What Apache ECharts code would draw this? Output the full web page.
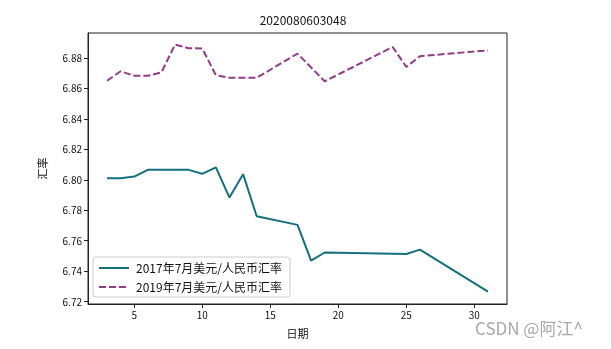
<!DOCTYPE html>
<html><head><meta charset="utf-8">
<script src="https://cdn.jsdelivr.net/npm/echarts@6/dist/echarts.min.js"></script>
<style>html,body{margin:0;padding:0;background:#fff}#c{width:611px;height:349px}</style>
</head><body><div id="c"></div>
<script>
const days2017 = [3,4,5,6,9,10,11,12,13,14,17,18,19,25,26,31];
const rate2017 = [6.8010,6.8010,6.8021,6.8065,6.8065,6.8039,6.8081,6.7883,6.8037,6.7761,6.7704,6.7469,6.7523,6.7513,6.7542,6.7266];
const days2019 = [3,4,5,6,7,8,9,10,11,12,14,17,19,24,25,26,31];
const rate2019 = [6.8650,6.8712,6.8682,6.8682,6.8705,6.8887,6.8863,6.8862,6.8686,6.8669,6.8669,6.8828,6.8646,6.8871,6.8740,6.8811,6.8849];
const xTicks = [5,10,15,20,25,30];
const yTicks = [6.72,6.74,6.76,6.78,6.80,6.82,6.84,6.86,6.88];
const seriesNames = ['2017年7月美元/人民币汇率','2019年7月美元/人民币汇率'];
const titleText = '2020080603048';
const xName = '日期', yName = '汇率';
const FONT = '"Noto Sans CJK SC", sans-serif';

const chart = echarts.init(document.getElementById('c'), null, {renderer:'canvas'});
chart.setOption({
  animation:false,
  backgroundColor:'#fff',
  title:{text:titleText,left:298,top:9,textAlign:'center',
    textStyle:{fontFamily:FONT,fontSize:12,fontWeight:'normal',color:'#111'}},
  grid:{left:88,right:104,top:33,bottom:45,show:true,borderColor:'#222',borderWidth:1,backgroundColor:'transparent'},
  xAxis:{type:'value',min:1.6,max:32.4,name:xName,nameLocation:'middle',nameGap:24,
    nameTextStyle:{fontFamily:FONT,fontSize:11,color:'#111'},
    axisLine:{show:true,onZero:false,lineStyle:{color:'#222',width:1}},
    axisTick:{show:true,length:4,customValues:xTicks,lineStyle:{color:'#222'}},
    splitLine:{show:false},
    axisLabel:{customValues:xTicks,fontFamily:FONT,fontSize:10,color:'#111',margin:6}},
  yAxis:{type:'value',min:6.7185,max:6.8963,name:yName,nameLocation:'middle',nameGap:40,nameRotate:90,
    nameTextStyle:{fontFamily:FONT,fontSize:11,color:'#111'},
    axisLine:{show:true,onZero:false,lineStyle:{color:'#222',width:1}},
    axisTick:{show:true,length:4,customValues:yTicks,lineStyle:{color:'#222'}},
    splitLine:{show:false},
    axisLabel:{customValues:yTicks,fontFamily:FONT,fontSize:10,color:'#111',margin:6,formatter:v=>v.toFixed(2)}},
  legend:{left:93,top:257,orient:'vertical',itemGap:7,itemWidth:30,itemHeight:12,
    backgroundColor:'#fff',borderColor:'#ccc',borderWidth:1,borderRadius:3,padding:[5,8,4,5],
    itemStyle:{opacity:0,borderWidth:0},
    textStyle:{fontFamily:FONT,fontSize:12,color:'#111',padding:[0,0,0,2]},
    data:seriesNames},
  series:[
    {name:seriesNames[0],type:'line',symbol:'none',data:days2017.map((d,i)=>[d,rate2017[i]]),
      lineStyle:{color:'#13707f',width:2},itemStyle:{color:'#13707f'}},
    {name:seriesNames[1],type:'line',symbol:'none',data:days2019.map((d,i)=>[d,rate2019[i]]),
      lineStyle:{color:'#953a85',width:2,type:[7,3]},itemStyle:{color:'#953a85'}}
  ],
  graphic:[{type:'text',left:475,top:320,style:{text:'CSDN @阿江^',font:'17px '+FONT,fill:'#a8a8a8'}}]
});
</script></body></html>
